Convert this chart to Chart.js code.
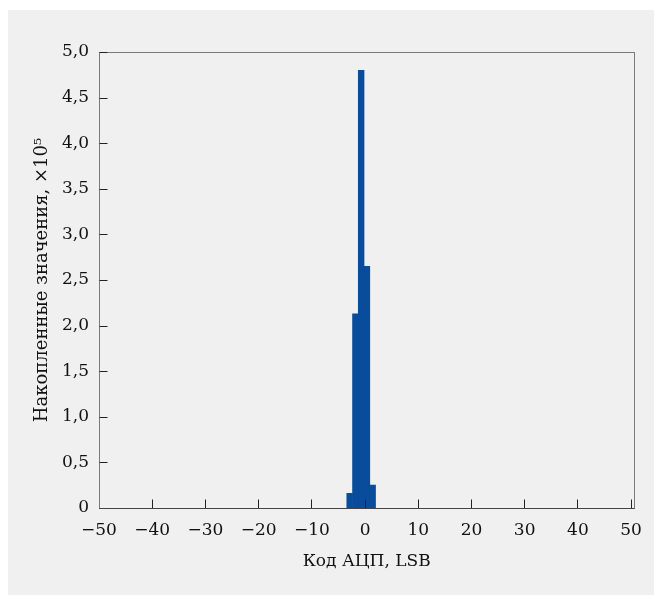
<!DOCTYPE html>
<html>
<head>
<meta charset="utf-8">
<script src="https://cdn.jsdelivr.net/npm/chart.js@4"></script>
<style>
  html, body { margin: 0; padding: 0; background: #fff; }
  #wrap { position: absolute; left: 0; top: 0; width: 654px; height: 595px; }
</style>
</head>
<body>
<div id="wrap"><canvas id="hist" width="654" height="595"></canvas></div>
<script>
// bin centres (ADC code, LSB) and accumulated counts (x10^5)
var binCenters = [-2.89, -1.81, -0.73, 0.35, 1.43];
var counts = [0.16, 2.13, 4.80, 2.65, 0.25];
var xTicks = [-50, -40, -30, -20, -10, 0, 10, 20, 30, 40, 50];
var yTicks = [0, 0.5, 1, 1.5, 2, 2.5, 3, 3.5, 4, 4.5, 5];

var fontFamily = '"DejaVu Serif", serif';

// panel background + frame + inward tick marks
var framePlugin = {
    id: 'frame',
    beforeDraw(chart) {
        let ctx = chart.ctx;
        ctx.save();
        ctx.fillStyle = '#f0f0f0';
        ctx.fillRect(8, 10, chart.width - 8, chart.height - 10);
        ctx.restore();
    },
    afterDatasetsDraw(chart) {
        let ctx = chart.ctx;
        let a = chart.chartArea;
        let xs = chart.scales.x, ys = chart.scales.y;
        let l = Math.floor(a.left) + 0.5, r = Math.round(a.right) + 0.5;
        let t = Math.round(a.top) + 0.5, b = Math.round(a.bottom) + 0.5;
        ctx.save();
        ctx.lineWidth = 1;
        ctx.strokeStyle = '#7a7a7a';
        ctx.strokeRect(l, t, r - l, b - t);
        ctx.strokeStyle = '#222';
        ctx.beginPath();
        xTicks.slice(1).forEach(v => {
            let px = Math.floor(xs.getPixelForValue(v)) + 0.5;
            ctx.moveTo(px, b);
            ctx.lineTo(px, b - 9);
        });
        yTicks.forEach(v => {
            let py = Math.round(ys.getPixelForValue(v)) + 0.5;
            ctx.moveTo(l, py);
            ctx.lineTo(l + 8, py);
        });
        ctx.stroke();
        ctx.strokeStyle = '#444';
        ctx.beginPath();
        ctx.moveTo(l, b);
        ctx.lineTo(r, b);
        ctx.stroke();
        ctx.restore();
    }
};

var ctx = document.getElementById('hist').getContext('2d');
new Chart(ctx, {
    type: 'bar',
    data: {
        datasets: [{
            data: binCenters.map((x, i) => ({ x: x, y: counts[i] })),
            backgroundColor: '#084c9b',
            borderWidth: 0,
            barPercentage: 1,
            categoryPercentage: 1
        }]
    },
    options: {
        responsive: false,
        animation: false,
        layout: { padding: { left: 0, top: 52, right: 14, bottom: 0 } },
        plugins: { legend: { display: false }, tooltip: { enabled: false } },
        scales: {
            x: {
                type: 'linear',
                min: -50,
                max: 50.6,
                offset: false,
                afterFit: s => { s.height = 87; },
                afterBuildTicks: s => { s.ticks = xTicks.map(v => ({ value: v })); },
                grid: { display: false, drawTicks: false },
                border: { display: false },
                ticks: {
                    color: '#111',
                    padding: 12,
                    maxRotation: 0,
                    font: { family: fontFamily, size: 17 },
                    callback: v => String(v).replace('-', '\u2212')
                },
                title: {
                    display: true,
                    text: 'Код АЦП, LSB',
                    color: '#111',
                    font: { family: fontFamily, size: 17 },
                    padding: { top: 0, bottom: 23 }
                }
            },
            y: {
                min: 0,
                max: 5,
                afterFit: s => { s.width = 99; },
                afterBuildTicks: s => { s.ticks = yTicks.map(v => ({ value: v })); },
                grid: { display: false, drawTicks: false },
                border: { display: false },
                ticks: {
                    color: '#111',
                    padding: 10,
                    font: { family: fontFamily, size: 17 },
                    callback: v => v === 0 ? '0' : v.toFixed(1).replace('.', ',')
                },
                title: {
                    display: true,
                    text: 'Накопленные значения, ×10⁵',
                    color: '#111',
                    font: { family: fontFamily, size: 18 },
                    padding: { top: 32, bottom: 0 }
                }
            }
        }
    },
    plugins: [framePlugin]
});
</script>
</body>
</html>
